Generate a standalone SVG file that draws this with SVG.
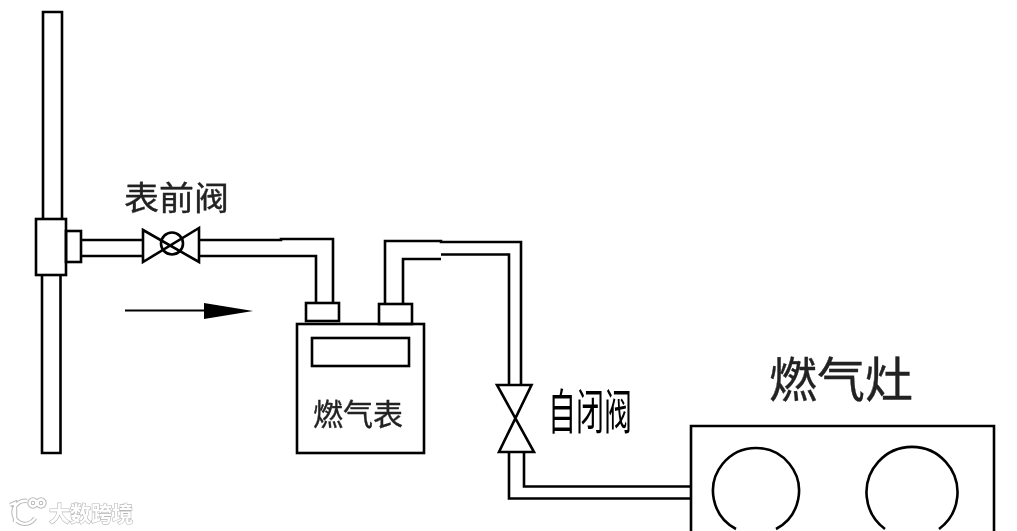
<svg xmlns="http://www.w3.org/2000/svg" width="1017" height="531" viewBox="0 0 1017 531">
<style>
.s{fill:none;stroke:#000;stroke-width:2.6}
.t{font-family:"Noto Sans CJK SC","Liberation Sans",sans-serif;fill:#222;stroke:#222;stroke-width:.35}
.w{font-family:"Noto Sans CJK SC",sans-serif;font-weight:700;fill:#fff;stroke:#b8b8b8;stroke-width:1.2;paint-order:stroke}
.l{fill:none;stroke:#b8b8b8;stroke-width:4.4}
.m{fill:none;stroke:#fff;stroke-width:2.4}
</style>
<defs><filter id="b" x="-10%" y="-10%" width="120%" height="120%"><feGaussianBlur stdDeviation="0.45"/></filter></defs>
<rect width="1017" height="531" fill="#fff"/>
<g id="connectors">
<path class="s" d="M43 219V12H62V219M42 275V453H60.500V275"/>
<path class="s" d="M82 240H143M82 256H143"/>
<path class="s" d="M199 240H281V239H333V304M199 256H316V304"/>
<path class="s" d="M385 304V241H441V242H521V385M403 304V259H441M441 254.500H509V385"/>
<path class="s" d="M509 452V498.500H691M524 452V486.500H691"/>
<path d="M125 310.500H205" stroke="#000" stroke-width="2" fill="none"/>
<polygon points="204,303 253,311 204,319" fill="#000"/>
</g>
<g id="riser-tee"><rect class="s" x="36" y="219" width="30" height="56"/><rect class="s" x="66" y="231" width="15" height="31"/></g>
<g id="meter-valve">
<path class="s" d="M143 230L199 262V228L143 262Z"/>
<circle class="s" cx="172" cy="243.500" r="11"/>
<text class="t" x="124" y="210" font-size="33" textLength="105" lengthAdjust="spacingAndGlyphs" filter="url(#b)">表前阀</text>
</g>
<g id="gas-meter">
<rect class="s" x="306" y="303" width="33" height="18"/>
<rect class="s" x="379" y="304" width="33" height="20"/>
<rect class="s" x="297" y="324" width="127" height="129"/>
<rect class="s" x="312" y="338" width="97" height="28"/>
<text class="t" x="313" y="425" font-size="30" filter="url(#b)">燃气表</text>
</g>
<g id="self-closing-valve">
<path class="s" d="M497 385H531.500L499 452H534Z"/>
<text class="t" x="548" y="429" font-size="48" textLength="84" lengthAdjust="spacingAndGlyphs" style="fill:#000;stroke:none" filter="url(#b)">自闭阀</text>
</g>
<g id="stove">
<path class="s" d="M691 531V426H994V531"/>
<path class="s" d="M736 529A43 43 0 1 1 776 529"/>
<path class="s" d="M885 529A45.500 45.500 0 1 1 939 529"/>
<text class="t" x="769" y="397" font-size="48" filter="url(#b)">燃气灶</text>
</g>
<g id="watermark" filter="url(#b)">
<path class="l" d="M10 505L15 503V522M27 501A11.500 11.500 0 1 0 35 518"/>
<circle class="l" cx="33" cy="503" r="3.500"/><circle class="l" cx="41" cy="503" r="3.500"/>
<path class="m" d="M10 505L15 503V522M27 501A11.500 11.500 0 1 0 35 518"/>
<circle class="m" cx="33" cy="503" r="3.500"/><circle class="m" cx="41" cy="503" r="3.500"/>
<text class="w" x="49" y="521" font-size="21">大数跨境</text>
</g>
<path d="M692 529H950" stroke="#9a9a9a" stroke-width="2" stroke-dasharray="7 5 3 8 12 6 4 9" fill="none" filter="url(#b)"/>
</svg>
